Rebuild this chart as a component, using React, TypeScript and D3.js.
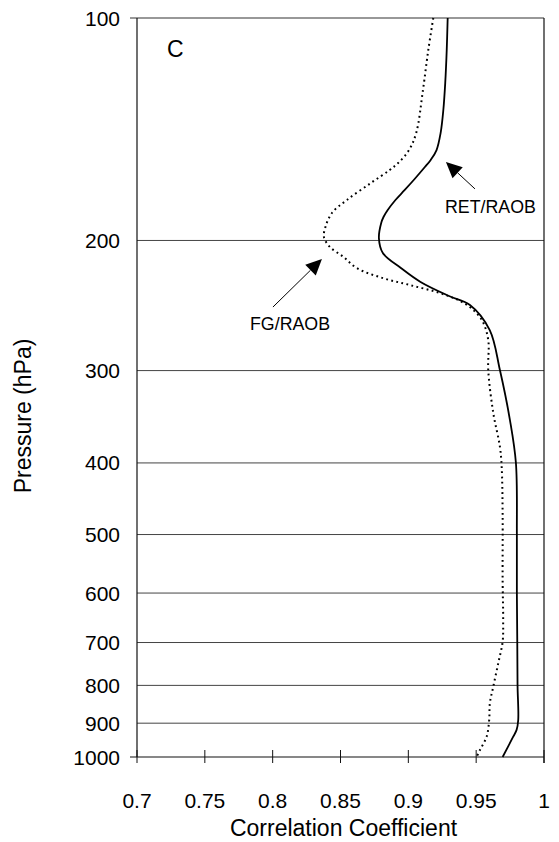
import React from "react";
import * as d3 from "d3";

// ---- data ----
const xTickValues = [0.7, 0.75, 0.8, 0.85, 0.9, 0.95, 1];
const xTickLabels = ["0.7", "0.75", "0.8", "0.85", "0.9", "0.95", "1"];
const yTickValues = [100, 200, 300, 400, 500, 600, 700, 800, 900, 1000];
const yTickLabels = ["100", "200", "300", "400", "500", "600", "700", "800", "900", "1000"];

// RET/RAOB (solid)
const retPressure = [100, 110.5, 122.4, 133.2, 143.1, 150.9, 155.6, 159.1, 165, 171, 176.3, 181.9, 185.9, 189.4, 198.5, 208, 217.9, 227.6, 237.8, 244.5, 264.4, 299.5, 350, 400, 500, 600, 700, 800, 891, 919, 938.7, 1000];
const retCorr = [0.929, 0.9283, 0.9272, 0.9258, 0.9238, 0.9208, 0.9165, 0.9122, 0.9048, 0.8972, 0.8905, 0.8848, 0.8817, 0.88, 0.8783, 0.8812, 0.8945, 0.909, 0.930, 0.9454, 0.960, 0.9675, 0.9749, 0.9793, 0.980, 0.980, 0.9803, 0.9805, 0.981, 0.9798, 0.9773, 0.9695];

// FG/RAOB (dotted)
const fgPressure = [100, 110.5, 125.1, 143.1, 150.9, 157.1, 160.6, 167.2, 176.3, 183.6, 191.8, 197.9, 204.1, 210.4, 218, 224.9, 229.8, 235.6, 240.8, 246.1, 256.3, 272.7, 299.5, 342.3, 380.3, 404.8, 467.6, 576.1, 652.7, 698.3, 746.1, 803.3, 845.3, 891, 938.7, 978.4, 1000];
const fgCorr = [0.9184, 0.9147, 0.9108, 0.9058, 0.9005, 0.8925, 0.8862, 0.8724, 0.8547, 0.8437, 0.8389, 0.8378, 0.8422, 0.852, 0.8621, 0.8813, 0.9012, 0.9233, 0.9366, 0.9454, 0.9542, 0.9589, 0.9589, 0.9626, 0.9675, 0.9688, 0.9695, 0.9695, 0.9699, 0.9695, 0.9663, 0.9626, 0.9601, 0.9596, 0.9577, 0.9528, 0.9503];

// annotations in data space [corr, pressure]
const retArrow = { tail: [0.9491, 170.3], tip: [0.9277, 156.6], text: [0.927, 183.6], label: "RET/RAOB" };
const fgArrow = { tail: [0.8002, 246.1], tip: [0.8363, 211.9], text: [0.7833, 264.4], label: "FG/RAOB" };
const panelLabel = { pos: [0.7221, 112.9], label: "C" };

const W = 559;
const H = 842;
const FONT = "'Liberation Sans', Arial, Helvetica, sans-serif";

export default function App() {
  const x = d3.scaleLinear().domain([0.7, 1]).range([137, 544]);
  const y = d3.scaleLog().domain([100, 1000]).range([18, 757]);

  const line = d3
    .line<[number, number]>()
    .x((d) => x(d[0]))
    .y((d) => y(d[1]))
    .curve(d3.curveCatmullRom.alpha(0.5));

  const retPts: [number, number][] = retCorr.map((c, i) => [c, retPressure[i]]);
  const fgPts: [number, number][] = fgCorr.map((c, i) => [c, fgPressure[i]]);

  const [x0, x1] = x.range();
  const [y0, y1] = y.range();

  const arrow = (a: { tail: number[]; tip: number[] }, key: string) => {
    const tx = x(a.tail[0]), ty = y(a.tail[1]);
    const hx = x(a.tip[0]), hy = y(a.tip[1]);
    const dx = hx - tx, dy = hy - ty;
    const len = Math.hypot(dx, dy);
    const ux = dx / len, uy = dy / len;
    const hl = 16, hw = 7.5;
    const bx = hx - ux * hl, by = hy - uy * hl;
    const p1 = [bx - uy * hw, by + ux * hw];
    const p2 = [bx + uy * hw, by - ux * hw];
    return (
      <g key={key}>
        <line x1={tx} y1={ty} x2={bx} y2={by} stroke="#000" strokeWidth={1} />
        <polygon points={`${hx},${hy} ${p1[0]},${p1[1]} ${p2[0]},${p2[1]}`} fill="#000" />
      </g>
    );
  };

  return (
    <svg
      width={W}
      height={H}
      style={{ position: "absolute", left: 0, top: 0, background: "#fff" }}
      fontFamily={FONT}
    >
      <rect x={0} y={0} width={W} height={H} fill="#fff" />
      {/* gridlines */}
      {yTickValues.slice(1, -1).map((p) => (
        <line key={"g" + p} x1={x0} x2={x1} y1={y(p)} y2={y(p)} stroke="#444" strokeWidth={1} />
      ))}
      {/* frame */}
      <line x1={130} x2={x1} y1={y0} y2={y0} stroke="#333" strokeWidth={1.2} />
      <line x1={130} x2={x1} y1={y1} y2={y1} stroke="#111" strokeWidth={1.2} />
      <line x1={x0} x2={x0} y1={y0} y2={y1} stroke="#111" strokeWidth={1.2} />
      <line x1={x1} x2={x1} y1={y0} y2={y1 + 6} stroke="#111" strokeWidth={1.2} />
      {/* x ticks */}
      {xTickValues.map((v) => (
        <line key={"xt" + v} x1={x(v)} x2={x(v)} y1={y1 - 7} y2={y1 + 6} stroke="#111" strokeWidth={1} />
      ))}
      {xTickValues.map((v, i) => (
        <text key={"xl" + v} x={x(v)} y={808} textAnchor="middle" fontSize={21} fill="#000">
          {xTickLabels[i]}
        </text>
      ))}
      {yTickValues.map((p, i) => (
        <text key={"yl" + p} x={120} y={y(p)} dy="0.36em" textAnchor="end" fontSize={21} fill="#000">
          {yTickLabels[i]}
        </text>
      ))}
      {/* axis titles */}
      <text x={(x0 + x1) / 2 + 3} y={836} textAnchor="middle" fontSize={23} fill="#000">
        Correlation Coefficient
      </text>
      <text transform={`translate(31,416) rotate(-90)`} textAnchor="middle" fontSize={23} fill="#000">
        Pressure (hPa)
      </text>
      {/* series */}
      <path d={line(fgPts) || ""} fill="none" stroke="#000" strokeWidth={2} strokeDasharray="1.8 3.4" />
      <path d={line(retPts) || ""} fill="none" stroke="#000" strokeWidth={1.8} />
      {/* annotations */}
      {arrow(retArrow, "ret")}
      {arrow(fgArrow, "fg")}
      <text x={x(retArrow.text[0])} y={y(retArrow.text[1])} fontSize={17.8} fill="#000">
        {retArrow.label}
      </text>
      <text x={x(fgArrow.text[0])} y={y(fgArrow.text[1])} fontSize={17.8} fill="#000">
        {fgArrow.label}
      </text>
      <text x={x(panelLabel.pos[0])} y={y(panelLabel.pos[1])} fontSize={23} fill="#000">
        {panelLabel.label}
      </text>
    </svg>
  );
}
